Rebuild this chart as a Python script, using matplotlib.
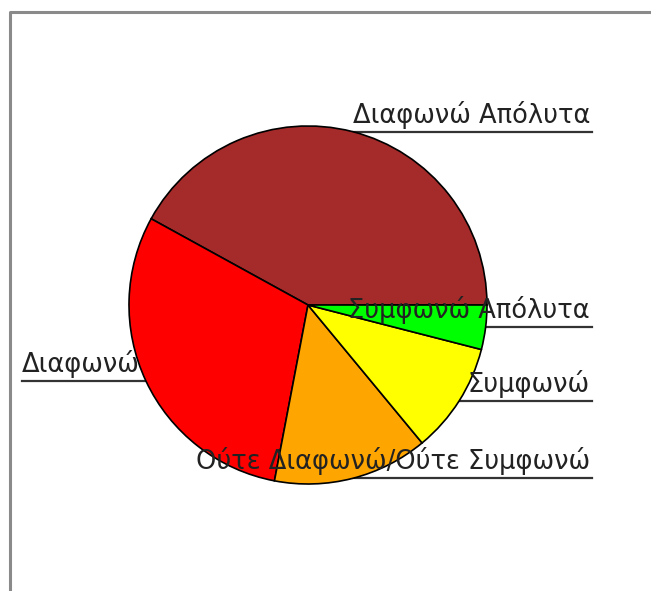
#Γράφημα πίτας - απαντήσεις ερωτηματολογίου

import matplotlib.pyplot as plt
import numpy as np

#Δεδομένα
labels = ["Διαφωνώ Απόλυτα", "Διαφωνώ", "Ούτε Διαφωνώ/Ούτε Συμφωνώ", "Συμφωνώ", "Συμφωνώ Απόλυτα"]
counts = [21, 15, 7, 5, 2]
colors = ["#A52A2A", "#FF0000", "#FFA500", "#FFFF00", "#00FF00"]

W, H = 651, 591
cx, cy, r = 308, H - 305, 179

fig = plt.figure(figsize=(W / 100, H / 100), dpi=100)
ax = fig.add_axes([0, 0, 1, 1])

wedges, _ = ax.pie(counts, colors=colors, startangle=0, counterclock=True,
                   center=(cx, cy), radius=r,
                   wedgeprops=dict(edgecolor="black", linewidth=1.2))
ax.set_xlim(0, W)
ax.set_ylim(0, H)
ax.set_aspect("equal")
ax.axis("off")

#Πλαίσιο (μόνο πάνω και αριστερά φαίνονται)
ax.plot([10, 10, W + 5], [-5, H - 12, H - 12], color="#8a8a8a", lw=2.2, zorder=1)

#Ετικέτες με υπογράμμιση
for w, lab in zip(wedges, labels):
    th = np.deg2rad((w.theta1 + w.theta2) / 2)
    xm = cx + r * np.cos(th)
    ym = cy + r * np.sin(th)
    if np.cos(th) >= 0:
        ax.plot([xm, 592], [ym, ym], color="#333333", lw=1.6, zorder=0)
        ax.text(590, ym + 3, lab, ha="right", va="bottom", fontsize=18.5,
                color="#222222", zorder=5)
    else:
        ax.plot([22, xm], [ym, ym], color="#333333", lw=1.6, zorder=0)
        ax.text(22, ym + 3, lab, ha="left", va="bottom", fontsize=18.5,
                color="#222222", zorder=5)

fig.savefig("out.png", dpi=100)
